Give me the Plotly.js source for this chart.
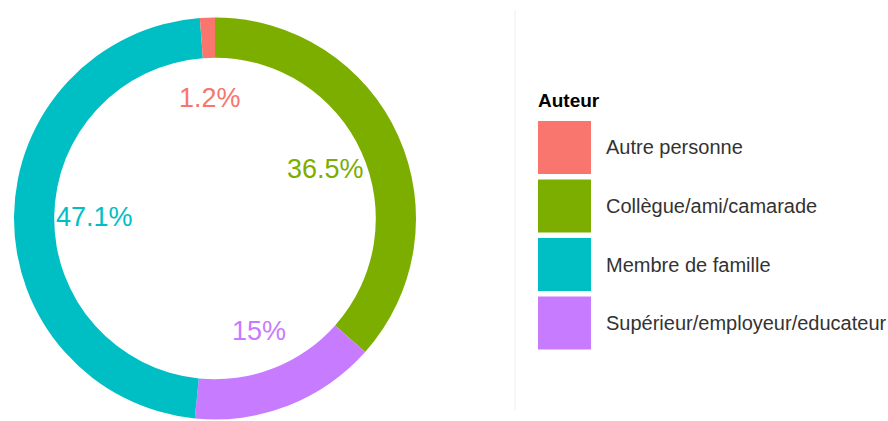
<!DOCTYPE html>
<html>
<head>
<meta charset="utf-8">
<script src="https://cdn.plot.ly/plotly-3.0.1.min.js"></script>
<style>html,body{margin:0;padding:0;background:#fff;}#chart{width:888px;height:421px;}</style>
</head>
<body>
<div id="chart"></div>
<script>
// ---- data ----
const categories = ['Autre personne', 'Collègue/ami/camarade', 'Membre de famille', 'Supérieur/employeur/educateur'];
const values = [1.2, 36.5, 47.1, 15];
const pctLabels = ['1.2%', '36.5%', '47.1%', '15%'];
const colors = ['#F8766D', '#7CAE00', '#00BFC4', '#C77CFF'];
const legendTitle = 'Auteur';
// clockwise slice order starting at 12 o'clock
const sliceOrder = [1, 3, 2, 0];

// ---- layout constants ----
const W = 888, H = 421;
const cx = 215, cy = 218.5, R = 201;
const px = x => x / W;
const py = y => 1 - y / H;

const pieLabels = sliceOrder.map(i => categories[i]);
const pieValues = sliceOrder.map(i => values[i]);
const pieColors = sliceOrder.map(i => colors[i]);

const trace = {
  type: 'pie',
  labels: pieLabels,
  values: pieValues,
  marker: {colors: pieColors, line: {width: 0}},
  hole: 0.8,
  sort: false,
  direction: 'clockwise',
  rotation: 0,
  textinfo: 'none',
  hoverinfo: 'none',
  showlegend: false,
  domain: {x: [px(cx - R), px(cx + R)], y: [py(cy + R), py(cy - R)]}
};

// percentage labels inside the hole, at the middle angle of each slice
const total = pieValues.reduce((a, b) => a + b, 0);
const annotations = [];
let cum = 0;
const rLab = 0.6 * R;
sliceOrder.forEach(i => {
  const mid = (cum + values[i] / 2) / total * 2 * Math.PI;
  cum += values[i];
  annotations.push({
    xref: 'paper', yref: 'paper',
    x: px(cx + rLab * Math.sin(mid)),
    y: py(cy - rLab * Math.cos(mid)),
    text: pctLabels[i], showarrow: false,
    xanchor: 'center', yanchor: 'middle',
    font: {family: 'Liberation Sans, Arial, sans-serif', size: 27, color: colors[i]}
  });
});

// legend (drawn manually for large ggplot-like keys)
const shapes = [{
  type: 'line', xref: 'paper', yref: 'paper',
  x0: px(515), x1: px(515), y0: py(10), y1: py(410),
  line: {color: '#efefef', width: 1}
}];
annotations.push({
  xref: 'paper', yref: 'paper', x: px(536), y: py(100),
  text: '<b>' + legendTitle + '</b>', showarrow: false,
  xanchor: 'left', yanchor: 'middle',
  font: {family: 'Liberation Sans, Arial, sans-serif', size: 19, color: '#000'}
});
categories.forEach((c, i) => {
  const y0 = 121 + i * 58.5;
  shapes.push({
    type: 'rect', xref: 'paper', yref: 'paper',
    x0: px(538), x1: px(591), y0: py(y0 + 53), y1: py(y0),
    fillcolor: colors[i], line: {width: 0}
  });
  annotations.push({
    xref: 'paper', yref: 'paper', x: px(604), y: py(y0 + 26.5),
    text: c, showarrow: false, xanchor: 'left', yanchor: 'middle',
    font: {family: 'Liberation Sans, Arial, sans-serif', size: 20, color: '#333'}
  });
});

const layout = {
  width: W, height: H,
  margin: {l: 0, r: 0, t: 0, b: 0},
  paper_bgcolor: '#fff',
  showlegend: false,
  shapes: shapes,
  annotations: annotations
};

Plotly.newPlot('chart', [trace], layout, {displayModeBar: false, staticPlot: true});
</script>
</body>
</html>
